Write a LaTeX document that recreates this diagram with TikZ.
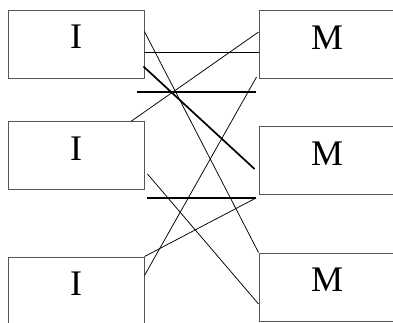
\documentclass[tikz,border=0pt]{standalone}
\usepackage{fontspec}
\setmainfont{Liberation Serif}
\usepackage{tikz}
\usetikzlibrary{positioning,calc}
\definecolor{bxgray}{HTML}{555555}
\tikzset{
  unitbox/.style ={draw=bxgray, line width=0.9pt, minimum width=136pt, minimum height=68pt,
                   inner sep=0pt, text depth=14pt, font=\fontsize{36pt}{40pt}\selectfont},
  wire/.style    ={line width=0.75pt},
  heavy/.style   ={line width=1.7pt},
}
\begin{document}
\begin{tikzpicture}[x=1pt,y=-1pt]
    \useasboundingbox (0,0) rectangle (393,322);
    \fill[white] (0,0) rectangle (393,322);
    \clip (0,0) rectangle (393,322);
    % --- input column ---
    \node[unitbox] (i1) at (76,44)    {I};
    \node[unitbox] (i2) at (76,155.5) {I};
    \node[unitbox] (i3) at (76,291)   {I};
    % --- output column ---
    \node[unitbox] (m1) at (327,44.5)  {M};
    \node[unitbox] (m2) at (327,160.5) {M};
    \node[unitbox] (m3) at (327,287)   {M};
    % --- bars ---
    \coordinate (bar1a) at (137,92);  \coordinate (bar1b) at (256,92);
    \coordinate (bar2a) at (147,198); \coordinate (bar2b) at (256,198);
    \draw[heavy] (bar1a) -- (bar1b);
    \draw[heavy] (bar2a) -- (bar2b);
    % --- wires ---
    \draw[wire] ([yshift=-22pt]i1.north east) -- (m3.north west);
    \draw[wire] ([yshift=-43pt]i1.north east) -- ([yshift=-43pt]i1.north east -| m1.west);
    \draw[heavy] ([xshift=-1pt,yshift=12pt]i1.south east) -- ([xshift=-4pt,yshift=-8.5pt]m2.west);
    \draw[wire] ([xshift=-13pt]i2.north east) -- ([yshift=12.5pt]m1.west);
    \draw[wire] ([xshift=-2pt,yshift=2pt]m1.south west) -- ([yshift=-19pt]i3.north east);
    \draw[wire] ([xshift=3pt,yshift=16pt]i2.south east) -- ([yshift=-17pt]m3.west);
    \draw[wire] (i3.north east) -- (bar2b);
\end{tikzpicture}
\end{document}
